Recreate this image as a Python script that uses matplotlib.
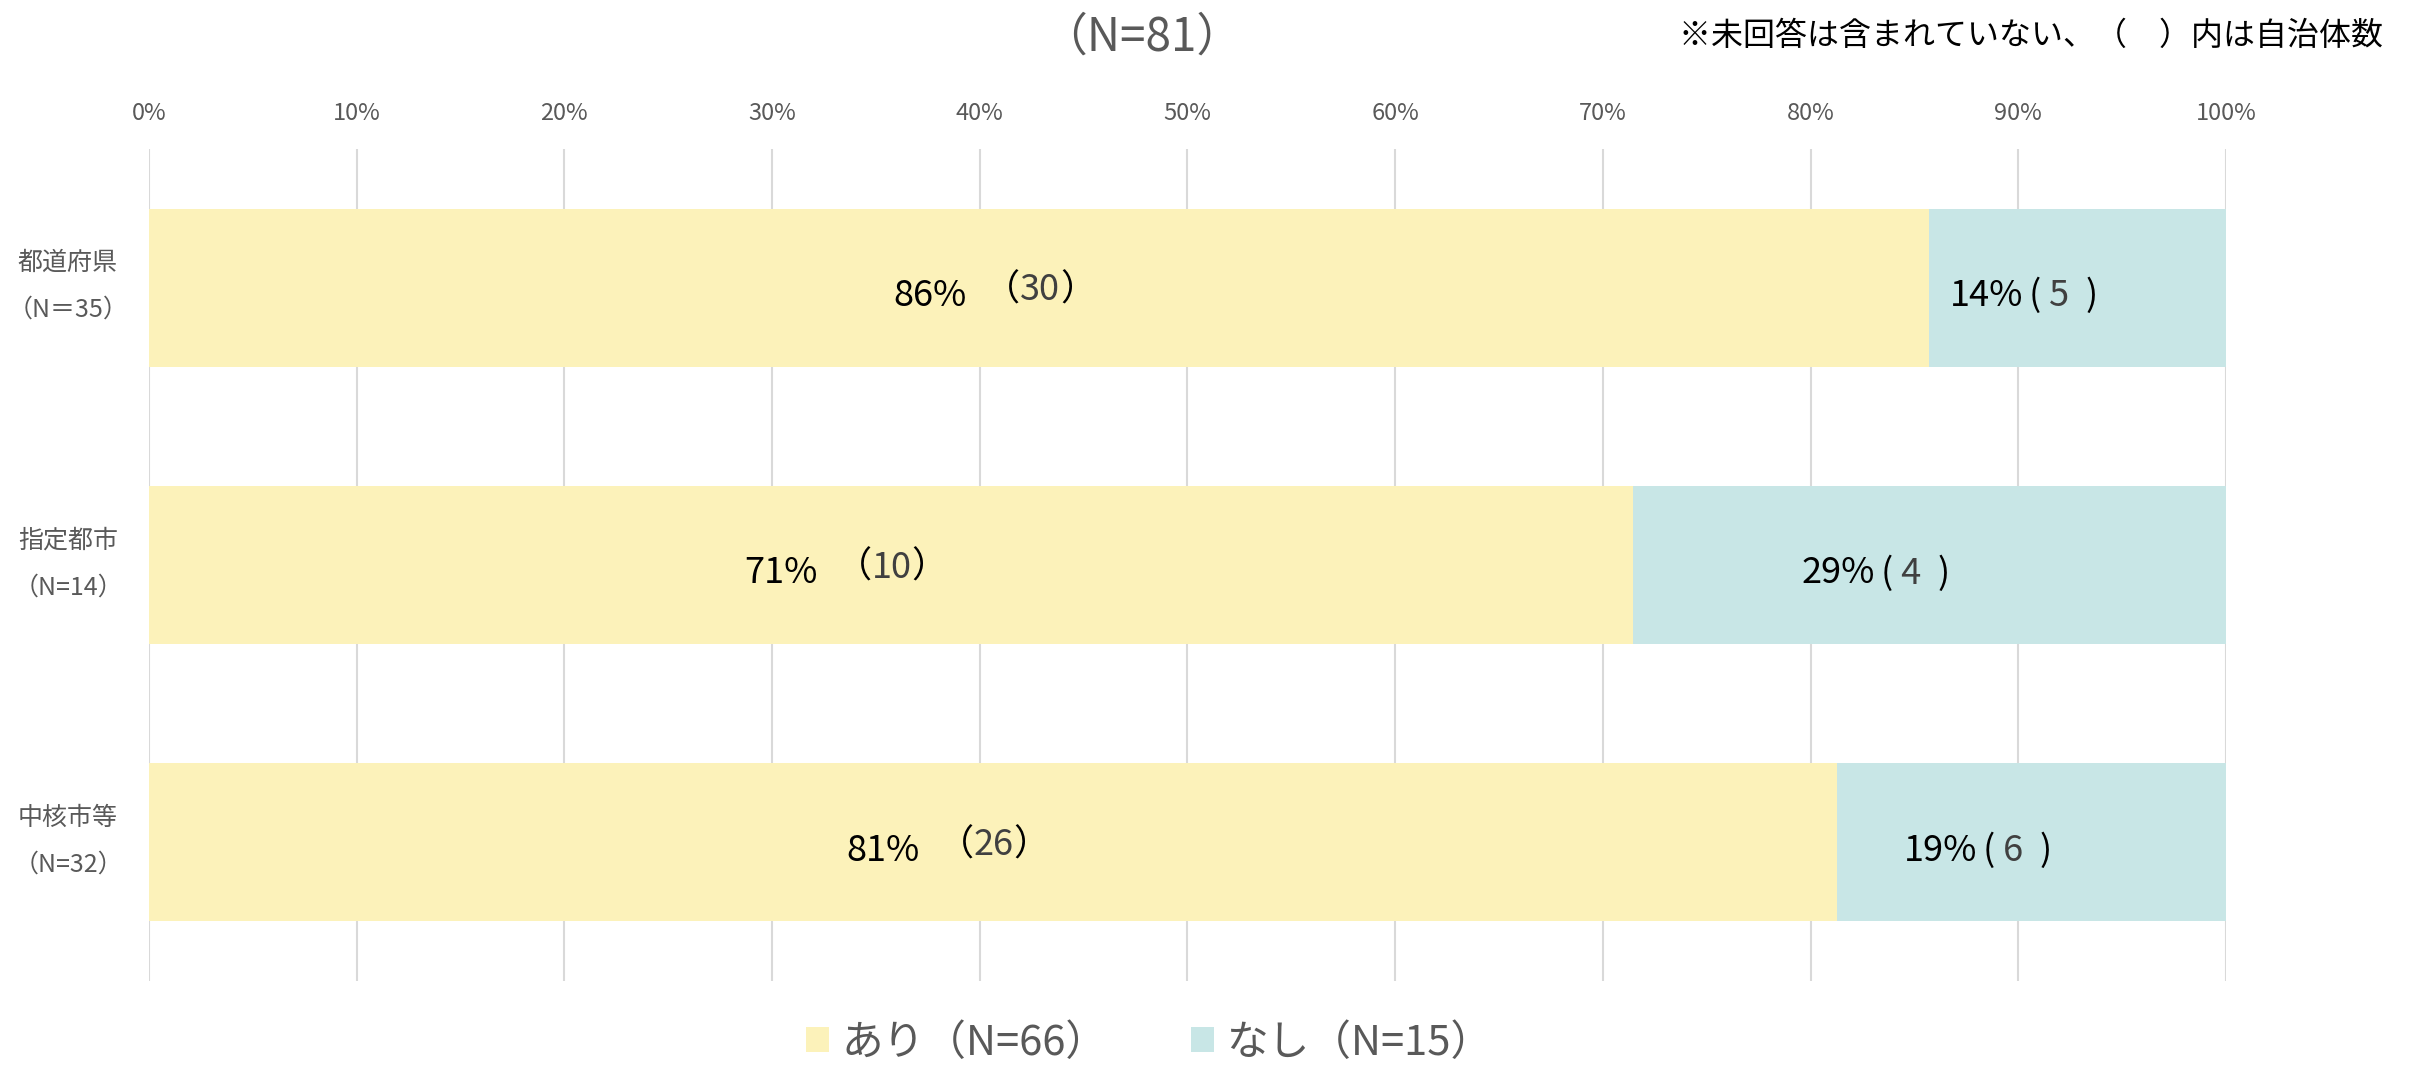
import matplotlib.pyplot as plt
from matplotlib.patches import Patch
from matplotlib.ticker import PercentFormatter

plt.rcParams['font.family'] = ['Noto Sans CJK JP', 'DejaVu Sans']

# data
categories = ['都道府県', '指定都市', '中核市等']
n_labels = ['（N＝35）', '（N=14）', '（N=32）']
ari_counts = [30, 10, 26]
nashi_counts = [5, 4, 6]
series_names = ['あり（N=66）', 'なし（N=15）']
x_ticks = [0, 10, 20, 30, 40, 50, 60, 70, 80, 90, 100]

yellow = '#FCF2BA'
teal = '#C8E6E6'
gray = '#595959'
numgray = '#404040'

totals = [a + b for a, b in zip(ari_counts, nashi_counts)]
ari_pct = [100 * a / t for a, t in zip(ari_counts, totals)]
nashi_pct = [100 * b / t for b, t in zip(nashi_counts, totals)]

fig = plt.figure(figsize=(24.14, 10.71), dpi=100)
ax = fig.add_axes([0.0617, 0.084, 0.8604, 0.7769])

y = list(range(len(categories)))
ax.barh(y, ari_pct, height=0.57, color=yellow, zorder=2)
ax.barh(y, nashi_pct, left=ari_pct, height=0.57, color=teal, zorder=2)

ax.set_xlim(0, 100)
ax.set_ylim(2.5, -0.5)
ax.set_xticks(x_ticks)
ax.xaxis.set_major_formatter(PercentFormatter(decimals=0))
ax.xaxis.tick_top()
ax.tick_params(axis='x', length=0, pad=17, labelsize=17, labelcolor=gray)
ax.set_yticks([])
ax.grid(axis='x', color='#D9D9D9', linewidth=1.5, zorder=0)
for s in ax.spines.values():
    s.set_visible(False)

# category labels left of the axis
for i, (c, n) in enumerate(zip(categories, n_labels)):
    ax.text(-0.039, i - 0.09, c, transform=ax.get_yaxis_transform(),
            ha='center', va='center', fontsize=18, color=gray)
    ax.text(-0.039, i + 0.08, n, transform=ax.get_yaxis_transform(),
            ha='center', va='center', fontsize=18, color=gray)


def count_label(x, yy, parts, colors):
    # paren / number / paren written one after another
    t = ax.text(x, yy, parts[0], ha='left', va='center', fontsize=26,
                color=colors[0], zorder=3)
    for p, col in zip(parts[1:], colors[1:]):
        t = ax.annotate(p, xy=(1, 0), xycoords=t, ha='left', va='bottom',
                        fontsize=26, color=col, zorder=3)


# data labels: percentage + count
for i in y:
    c1 = ari_pct[i] / 2
    ax.text(c1 - 3.5, i + 0.03, '%d%%' % round(ari_pct[i]), ha='right', va='center',
            fontsize=26, color='black', zorder=3)
    count_label(c1 - 2.65, i + 0.01, ['（', str(ari_counts[i]), '）'],
                ['black', numgray, 'black'])
    c2 = ari_pct[i] + nashi_pct[i] / 2
    ax.text(c2 - 2.6, i + 0.03, '%d%%' % round(nashi_pct[i]), ha='right', va='center',
            fontsize=26, color='black', zorder=3)
    count_label(c2 - 2.35, i + 0.03, ['(', ' %d  ' % nashi_counts[i], ')'],
                ['black', numgray, 'black'])

fig.text(0.473, 0.965, '（N=81）', ha='center', va='center', fontsize=33, color=gray)
fig.text(0.987, 0.966, '※未回答は含まれていない、（　）内は自治体数', ha='right', va='center',
         fontsize=23, color='black')

handles = [Patch(facecolor=yellow), Patch(facecolor=teal)]
fig.legend(handles, series_names, loc='center', bbox_to_anchor=(0.476, 0.026), ncol=2,
           frameon=False, fontsize=30, labelcolor=gray, handlelength=0.55, handleheight=0.55,
           handletextpad=0.3, columnspacing=2.0, borderpad=0.1)

fig.savefig('out.png', dpi=100)
